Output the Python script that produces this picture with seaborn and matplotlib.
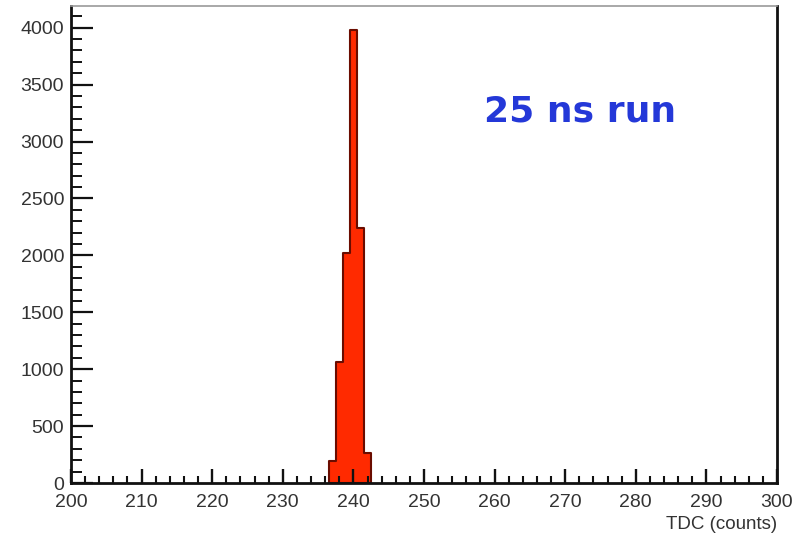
import matplotlib
matplotlib.use("Agg")
import matplotlib.pyplot as plt
from matplotlib.ticker import MultipleLocator
import seaborn as sns
import numpy as np

# data (TDC histogram, bin centres and counts)
tdc_centers = [237, 238, 239, 240, 241, 242]
tdc_counts = [195, 1066, 2020, 3980, 2240, 262]
bin_edges = [236.5, 237.5, 238.5, 239.5, 240.5, 241.5, 242.5]
x_ticks = [200, 210, 220, 230, 240, 250, 260, 270, 280, 290, 300]
y_ticks = [0, 500, 1000, 1500, 2000, 2500, 3000, 3500, 4000]

sns.set_theme(style="white")
plt.rcParams['font.family'] = ['Liberation Sans', 'DejaVu Sans']

fig = plt.figure(figsize=(8.02, 5.38), dpi=100)
ax = fig.add_axes([71/802, 1-483/538, (777-71)/802, (483-6)/538])

sns.histplot(x=tdc_centers, weights=tdc_counts, bins=bin_edges, ax=ax,
             element='step', color='#ff2a00', edgecolor='#6a0c00',
             linewidth=1.5, alpha=1.0)

ax.set_xlim(200, 300)
ax.set_ylim(0, max(tdc_counts) * 1.053)
ax.set_xticks(x_ticks)
ax.set_yticks(y_ticks)
ax.xaxis.set_minor_locator(MultipleLocator(2))
ax.yaxis.set_minor_locator(MultipleLocator(100))

ax.tick_params(axis='x', which='major', direction='in', length=10, width=1.7,
               color='#111111', labelsize=14, labelcolor='#333333', pad=8,
               bottom=True, top=False)
ax.tick_params(axis='x', which='minor', direction='in', length=5, width=1.5,
               color='#111111', bottom=True, top=False)
ax.tick_params(axis='y', which='major', direction='in', length=16, width=1.6,
               color='#111111', labelsize=14, labelcolor='#333333', pad=5,
               left=True, right=False)
ax.tick_params(axis='y', which='minor', direction='in', length=8, width=1.4,
               color='#111111', left=True, right=False)
ax.set_axisbelow(False)

for s in ['left', 'bottom', 'right']:
    ax.spines[s].set_color('#111111')
    ax.spines[s].set_linewidth(2.0)
ax.spines['top'].set_color('#999999')
ax.spines['top'].set_linewidth(1.2)

ax.set_xlabel('')
ax.set_ylabel('')
ax.text(1.0, -0.07, 'TDC (counts)', transform=ax.transAxes, ha='right', va='top',
        fontsize=13.5, color='#333333')

ax.text(580/802, 1-112/538, '25 ns run', transform=fig.transFigure,
        ha='center', va='center', fontsize=26, fontweight='bold',
        color='#2438d8', family=['DejaVu Sans'])

fig.savefig('out.png', dpi=100, facecolor='white')
